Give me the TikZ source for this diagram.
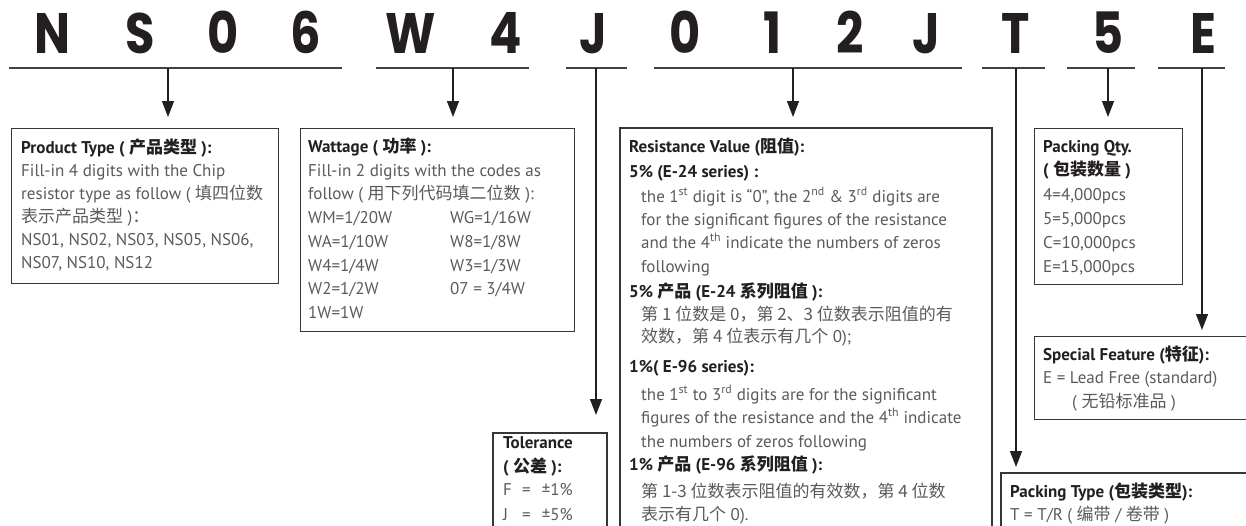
\documentclass[tikz,border=0pt]{standalone}
\usepackage{fontspec}
\setmainfont{PT Sans}
\newfontfamily\zhfont{Noto Sans CJK SC}
\newfontfamily\codefont{Poppins}[FakeStretch=0.84]
\usetikzlibrary{arrows.meta}
\definecolor{ink}{HTML}{231F20}
\definecolor{bodygray}{HTML}{5A5A5C}
\newcommand{\cn}[1]{{\zhfont #1}}

\begin{document}
\begin{tikzpicture}[x=1pt, y=-1pt,
  code/.style={font=\codefont\bfseries\fontsize{57}{57}\selectfont, text=ink, anchor=base, inner sep=0pt},
  rule/.style={draw=ink!85, line width=1.8pt},
  pointer/.style={draw=ink, line width=1.4pt, -{Triangle[width=12pt, length=16pt]}},
  box/.style={draw=ink!90, line width=1.2pt, anchor=north west},
  body/.style={font=\fontsize{17}{23}\selectfont, text=bodygray, anchor=base west, inner sep=0pt},
  head/.style={body, text=ink, font=\bfseries\fontsize{17}{23}\selectfont}]
\useasboundingbox (0,0) rectangle (1246,525);

% part number
\foreach \c/\x [count=\i] in {N/53, S/140, 0/223, 6/306, W/411, 4/506, J/593,
    0/685, 1/772, 2/850, J/926, T/1016, 5/1108, E/1203}
  \node[code] (c\i) at (\x,53) {\c};

\foreach \a/\b [count=\i] in {9/342, 376/529, 566/627, 654/962, 982/1045, 1067/1135, 1158/1225}
  \draw[rule] (\a,68) coordinate (ul\i) -- (\b,68) coordinate (ur\i);

\foreach \x [count=\i] in {168, 453, 596, 793, 1016, 1108, 1202}
  \coordinate (a\i) at (\x,68);

% boxes
\node[box, minimum width=267pt, minimum height=155pt] (ptype) at (11,128) {};
\node[box, minimum width=274pt, minimum height=203pt] (watt) at (300,128) {};
\node[box, minimum width=148pt, minimum height=156pt] (qty) at (1034,128) {};
\node[box, minimum width=240pt, minimum height=83pt] (feat) at (1034,336) {};
\draw[box] (620,530) -- (620,128) coordinate (res) -- (992,128) -- (992,530);
\draw[box] (493,530) -- (493,433) coordinate (tol) -- (607,433) -- (607,530);
\draw[box] (1001,530) -- (1001,473) coordinate (ptyp) -- (1250,473);

\draw[pointer, shorten >=11pt] (a1) -- (a1 |- ptype.north);
\draw[pointer, shorten >=11pt] (a2) -- (a2 |- watt.north);
\draw[pointer, shorten >=18pt] (a3) -- (a3 |- tol);
\draw[pointer, shorten >=11pt] (a4) -- (a4 |- res);
\draw[pointer, shorten >=6pt] (a5) -- (a5 |- ptyp);
\draw[pointer, shorten >=11pt] (a6) -- (a6 |- qty.north);
\draw[pointer, shorten >=6pt] (a7) -- (a7 |- feat.north);

% product type
\node[head] (pt0) at (21,153) {Product Type ( \cn{产品类型} ):};
\foreach \l [count=\i] in {{Fill-in 4 digits with the Chip}, {resistor type as follow ( \cn{填四位数}},
    {\cn{表示产品类型} )\cn{：}}, {NS01, NS02, NS03, NS05, NS06,}, {NS07, NS10, NS12}}
  \node[body] (pt\i) at (21,153+23*\i) {\l};

% wattage
\node[head] (wt0) at (308,152) {Wattage ( \cn{功率} ):};
\node[body] (wt1) at (308,176) {Fill-in 2 digits with the codes as};
\node[body] (wt2) at (308,199) {follow ( \cn{用下列代码填二位数} ):};
\foreach \l [count=\i from 3] in {WM=1/20W, WA=1/10W, W4=1/4W, W2=1/2W, 1W=1W}
  \node[body] (wl\i) at (308,152+23.8*\i) {\l};
\foreach \r [count=\i from 3] in {WG=1/16W, W8=1/8W, W3=1/3W, 07 = 3/4W}
  \node[body] (wr\i) at (450,152+23.8*\i) {\r};

% tolerance
\node[head] (tl0) at (503,448) {Tolerance};
\node[head] (tl1) at (503,472) {( \cn{公差} ):};
\node[body] (tl2) at (503,495) {\makebox[19pt][l]{F}=\hspace{11pt}±1\%};
\node[body] (tl3) at (503,520) {\makebox[19pt][l]{J}=\hspace{11pt}±5\%};

% resistance value
\node[head] (rv0) at (629,152) {Resistance Value (\cn{阻值}):};
\node[head] (rv1) at (629,177) {5\% (E-24 series) :};
\node[body] (rv2) at (641,202) {the 1\textsuperscript{st} digit is “0”, the 2\textsuperscript{nd} \& 3\textsuperscript{rd} digits are};
\node[body] (rv3) at (641,225) {for the significant figures of the resistance};
\node[body] (rv4) at (641,248) {and the 4\textsuperscript{th} indicate the numbers of zeros};
\node[body] (rv5) at (641,272) {following};
\node[head] (rv6) at (629,297) {5\% \cn{产品} (E-24 \cn{系列阻值} ):};
\node[body] (rv7) at (641,320) {\cn{第 1 位数是 0，第 2、3 位数表示阻值的有}};
\node[body] (rv8) at (641,342) {\cn{效数，第 4 位表示有几个} 0);};
\node[head] (rv9) at (629,372) {1\%( E-96 series):};
\node[body] (rv10) at (641,400) {the 1\textsuperscript{st} to 3\textsuperscript{rd} digits are for the significant};
\node[body] (rv11) at (641,423) {figures of the resistance and the 4\textsuperscript{th} indicate};
\node[body] (rv12) at (641,447) {the numbers of zeros following};
\node[head] (rv13) at (629,470) {1\% \cn{产品} (E-96 \cn{系列阻值} ):};
\node[body] (rv14) at (641,497) {\cn{第 1-3 位数表示阻值的有效数，第 4 位数}};
\node[body] (rv15) at (641,520) {\cn{表示有几个} 0).};

% packing qty
\node[head] (pq0) at (1043,152) {Packing Qty.};
\node[head] (pq1) at (1043,175) {( \cn{包装数量} )};
\foreach \l [count=\i from 2] in {{4=4,000pcs}, {5=5,000pcs}, {C=10,000pcs}, {E=15,000pcs}}
  \node[body] (pq\i) at (1043,152+24*\i) {\l};

% special feature
\node[head] (sf0) at (1043,360) {Special Feature (\cn{特征}):};
\node[body] (sf1) at (1043,383) {E = Lead Free (standard)};
\node[body] (sf2) at (1072,407) {( \cn{无铅标准品} )};

% packing type
\node[head] (pk0) at (1010,497) {Packing Type (\cn{包装类型}):};
\node[body] (pk1) at (1010,520) {T = T/R ( \cn{编带} / \cn{卷带} )};
\end{tikzpicture}
\end{document}
